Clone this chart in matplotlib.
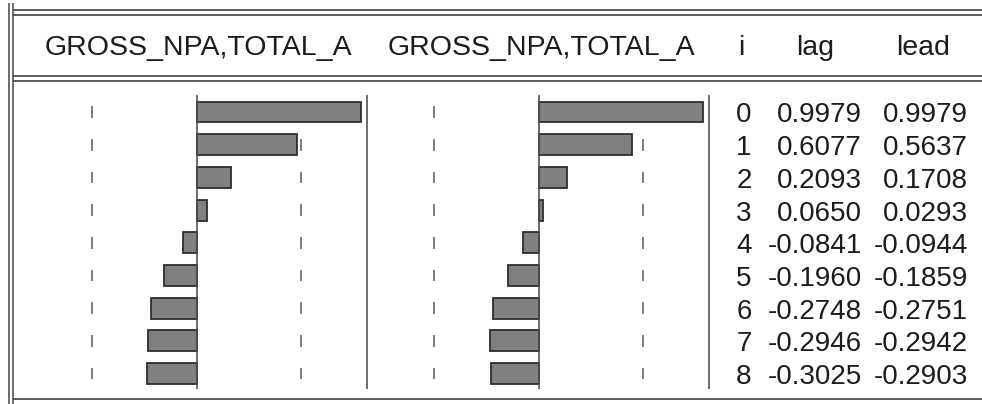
import matplotlib.pyplot as plt
from matplotlib import transforms

# cross correlation of GROSS_NPA with TOTAL_A
lags = [0, 1, 2, 3, 4, 5, 6, 7, 8]
lag_corr = [0.9979, 0.6077, 0.2093, 0.0650, -0.0841, -0.1960, -0.2748, -0.2946, -0.3025]
lead_corr = [0.9979, 0.5637, 0.1708, 0.0293, -0.0944, -0.1859, -0.2751, -0.2942, -0.2903]
series_label = "GROSS_NPA,TOTAL_A"
col_labels = ["i", "lag", "lead"]
bound = 0.6325  # approx 2 / sqrt(T)

W, H = 982, 404
SCALE = 165.0       # pixels per unit of correlation
ROW0, ROWSTEP = 112.0, 32.7
TOP, BOTTOM = 95, 389
LINE = "#4d4d4d"
TXT = "#1c1c1c"
FONT = "Liberation Sans"
px = 0.72  # one pixel in points at dpi 100

fig = plt.figure(figsize=(W / 100, H / 100), dpi=100)
frame = fig.add_axes([0, 0, 1, 1])
frame.set_xlim(0, W)
frame.set_ylim(H, 0)
frame.axis("off")


def rect(x0, x1, y0, y1):
    return [x0 / W, 1 - y1 / H, (x1 - x0) / W, (y1 - y0) / H]


def panel(x0, x1, zero, values):
    ax = fig.add_axes(rect(x0, x1, TOP, BOTTOM))
    ax.set_xlim((x0 - zero) / SCALE, (x1 - zero) / SCALE)
    ax.set_ylim((BOTTOM - ROW0) / ROWSTEP, (TOP - ROW0) / ROWSTEP)
    ax.axis("off")
    # bounds first so the bars hide them where they overlap
    for r in lags:
        ax.vlines([-bound, bound], r - 0.18, r + 0.18, color="#606060",
                  lw=1.6 * px, zorder=1)
    ax.barh(lags, values, height=0.64, color="#808080",
            edgecolor="#2e2e2e", linewidth=1.8 * px, zorder=2)
    ax.axvline(0, color=LINE, lw=1.6 * px, zorder=3)
    return ax


left = panel(17, 367, 196.5, lag_corr)
right = panel(372, 708, 538.5, lead_corr)

# frame lines
frame.vlines([9, 13], 3, H, color=LINE, lw=1.6 * px)
frame.hlines([9.5, 14.5, 75.5, 80.5], 13, W, color=LINE, lw=1.8 * px)
frame.hlines(399, 13, W, color=LINE, lw=1.8 * px)
frame.vlines([367.5, 709], TOP, BOTTOM, color=LINE, lw=1.6 * px)

# header row
hdr = dict(fontsize=20.5, family=FONT, color=TXT, va="baseline")
frame.text(198.5, 55, series_label, ha="center", **hdr)
frame.text(541.5, 55, series_label, ha="center", **hdr)
frame.text(741, 55, col_labels[0], ha="center", **hdr)
frame.text(815, 55, col_labels[1], ha="center", **hdr)
frame.text(923, 55, col_labels[2], ha="center", **hdr)

# numeric table, rows share the bar panels' y scale
tr = transforms.blended_transform_factory(frame.transData, left.transData)
num = dict(fontsize=20, family=FONT, color=TXT, va="baseline", transform=tr)
off = 10.5 / ROWSTEP
for i, a, b in zip(lags, lag_corr, lead_corr):
    y = i + off
    frame.text(744, y, str(i), ha="center", **num)
    frame.text(862, y, f"{a:.4f}", ha="right", **num)
    frame.text(968, y, f"{b:.4f}", ha="right", **num)

fig.savefig("out.png", dpi=100)
